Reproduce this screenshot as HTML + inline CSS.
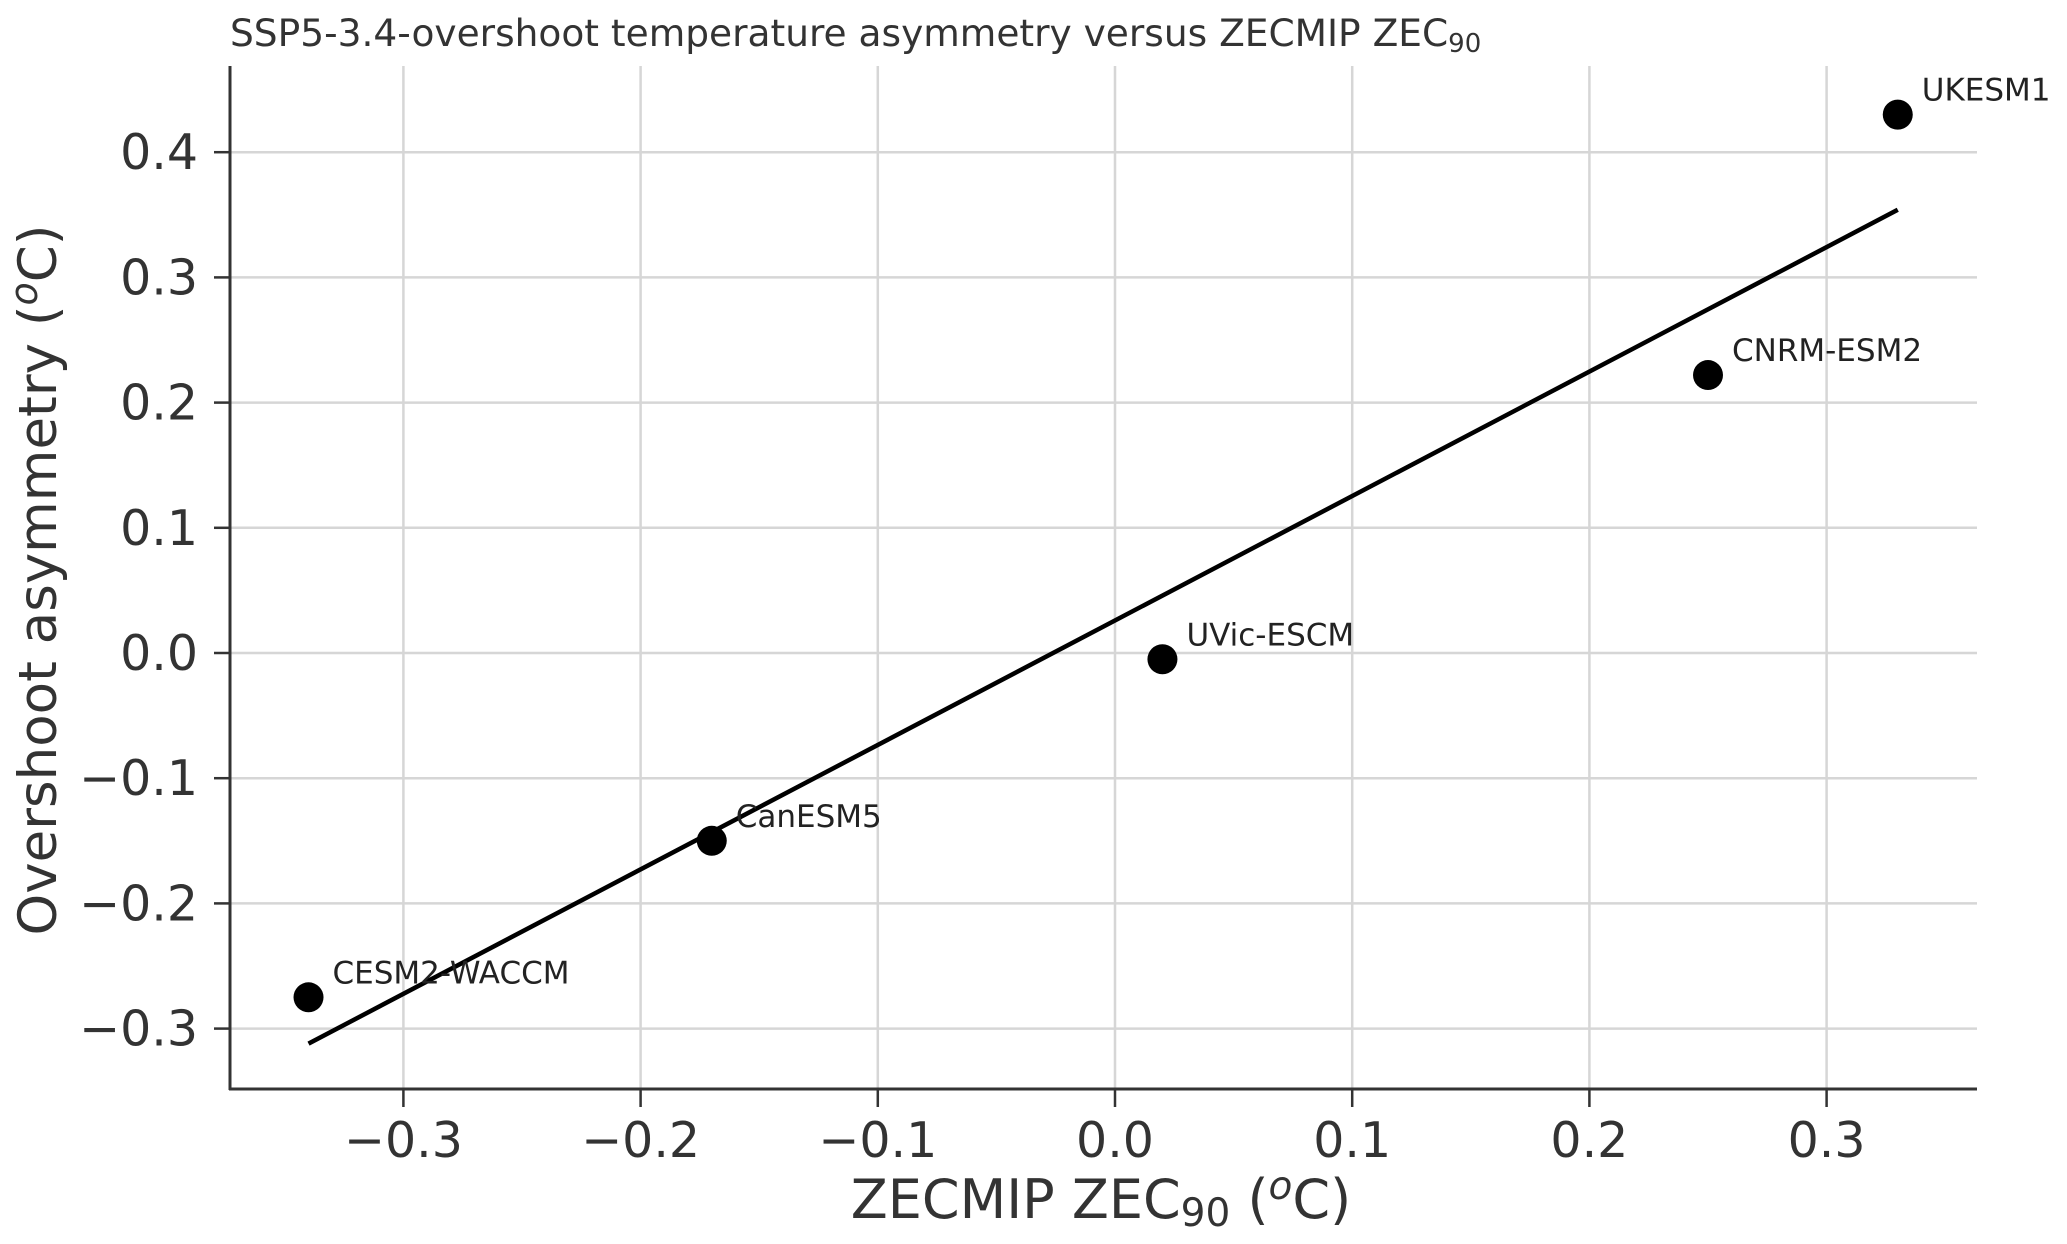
<!DOCTYPE html>
<html><head><meta charset="utf-8"><style>
html,body{margin:0;padding:0;background:#fff}
svg{display:block;font-family:"DejaVu Sans","Liberation Sans",sans-serif}
</style></head><body>
<svg id="chart" width="2067" height="1244" viewBox="0 0 2067 1244" xmlns="http://www.w3.org/2000/svg">
<text x="230" y="46" font-size="37.5" fill="#333">SSP5-3.4-overshoot temperature asymmetry versus ZECMIP ZEC<tspan font-size="26" dy="6">90</tspan></text>
<g id="grid"></g>
<g id="axes"></g>
<g id="marks"></g>
<text x="1101" y="1218" font-size="54" fill="#333" text-anchor="middle">ZECMIP ZEC<tspan font-size="39" dy="8">90</tspan><tspan dy="-8"> (</tspan><tspan font-style="italic" font-size="39" dy="-19">o</tspan><tspan dy="19">C)</tspan></text>
<text transform="translate(56,580) rotate(-90)" font-size="53" fill="#333" text-anchor="middle">Overshoot asymmetry (<tspan font-style="italic" font-size="38" dy="-19">o</tspan><tspan dy="19">C)</tspan></text>
</svg>
<script>
const models = ["CESM2-WACCM","CanESM5","UVic-ESCM","CNRM-ESM2","UKESM1"];
const zecValues = [-0.34,-0.17,0.02,0.25,0.33];
const asymValues = [-0.275,-0.15,-0.005,0.222,0.43];
const fitX = [-0.34,0.33];
const fitY = [-0.312,0.354];
const xTicks = [-0.3,-0.2,-0.1,0.0,0.1,0.2,0.3];
const yTicks = [-0.3,-0.2,-0.1,0.0,0.1,0.2,0.3,0.4];

const L=230,R=1977,T=66,B=1089;
const xs=v=>1115+v*2372;
const ys=v=>653-v*1252;
const NS="http://www.w3.org/2000/svg";
function mk(tag,attrs,parent){const e=document.createElementNS(NS,tag);for(const k in attrs)e.setAttribute(k,attrs[k]);parent.appendChild(e);return e;}
const grid=document.getElementById('grid'),axes=document.getElementById('axes'),marks=document.getElementById('marks');
const fmt=v=>(v<0?"\u2212":"")+Math.abs(v).toFixed(1);
xTicks.forEach(v=>{
  const x=xs(v);
  const g=mk('line',{x1:x,x2:x,y1:T,y2:B,stroke:'#d6d6d6','stroke-width':2.5},grid);
  
  
  const t=mk('line',{x1:x,x2:x,y1:B,y2:B+18,stroke:'#333','stroke-width':2.5},axes);
  
  
  const l=mk('text',{x:x,y:B+68,'font-size':49,fill:'#333','text-anchor':'middle'},axes);
  l.textContent=fmt(v);
  
  
});
yTicks.forEach(v=>{
  const y=ys(v);
  const g=mk('line',{x1:L,x2:R,y1:y,y2:y,stroke:'#d6d6d6','stroke-width':2.5},grid);
  
  
  const t=mk('line',{x1:L-16,x2:L,y1:y,y2:y,stroke:'#333','stroke-width':2.5},axes);
  
  
  const l=mk('text',{x:L-32,y:y+17,'font-size':49,fill:'#333','text-anchor':'end'},axes);
  l.textContent=fmt(v);
  
  
});
const ya=mk('line',{x1:L,x2:L,y1:T,y2:B+1,stroke:'#333','stroke-width':3},axes);


const xa=mk('line',{x1:L-1,x2:R,y1:B,y2:B,stroke:'#333','stroke-width':3},axes);


const fit=mk('line',{x1:xs(fitX[0]),y1:ys(fitY[0]),x2:xs(fitX[1]),y2:ys(fitY[1]),stroke:'#000','stroke-width':4.5},marks);


models.forEach((m,i)=>{
  const cx=xs(zecValues[i]),cy=ys(asymValues[i]);
  const c=mk('circle',{cx:cx,cy:cy,r:15,fill:'#000'},marks);
  
  
  const t=mk('text',{x:cx+24,y:cy-14,'font-size':31,fill:'#222'},marks);
  t.textContent=m;
  
  
});
</script>
</body></html>
